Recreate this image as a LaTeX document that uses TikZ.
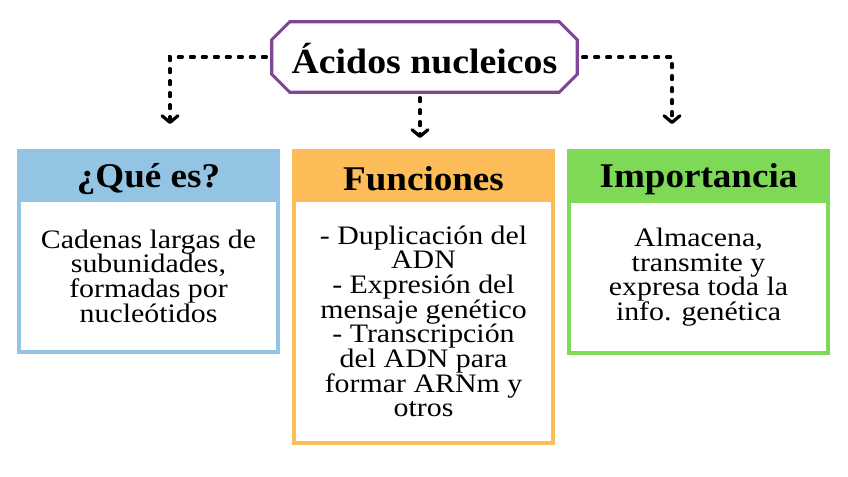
\documentclass[tikz,border=0pt]{standalone}
\usepackage{fontspec}
\setmainfont{Liberation Serif}[FakeStretch=1.07]
\newfontfamily\bodyfont{Liberation Serif}[FakeStretch=1.12]
\usetikzlibrary{arrows.meta}
\definecolor{qblue}{RGB}{148,196,228}
\definecolor{qorange}{RGB}{252,188,88}
\definecolor{qgreen}{RGB}{126,217,87}
\definecolor{qpurple}{RGB}{128,70,150}
\tikzset{
  titlebox/.style={rectangle, minimum width=228.75pt, minimum height=52.5pt, inner sep=0pt},
  titleline/.style={draw=qpurple, line width=2.3pt, fill=white, line join=miter},
  titletext/.style={inner sep=0pt, font=\bfseries\fontsize{26.5}{30}\selectfont},
  headbox/.style={rectangle, minimum width=197.25pt, minimum height=39.75pt, inner sep=0pt},
  headtext/.style={inner sep=0pt, font=\bfseries\fontsize{26}{28}\selectfont},
  bodybox/.style={rectangle, line width=3pt, fill=white, minimum width=194.25pt, inner sep=0pt,
    align=center, font=\bodyfont\fontsize{20}{18.5}\selectfont},
  conn/.style={line width=2.4pt, line cap=round, dash pattern=on 3pt off 6pt,
    -{Straight Barb[length=5pt,width=12pt,line cap=round,line join=round]}},
}
\begin{document}
\begin{tikzpicture}[x=0.75pt,y=-0.75pt]
\useasboundingbox (0,0) rectangle (848,477);
% bodies
\node[bodybox, draw=qblue, minimum height=114pt] (b1) at (148.5,276) {Cadenas largas de\\subunidades,\\formadas por\\nucleótidos};
\node[bodybox, draw=qorange, minimum height=182.25pt] (b2) at (423.5,321.5) {- Duplicación del\\ADN\\- Expresión del\\mensaje genético\\- Transcripción\\del ADN para\\formar ARNm y\\otros};
\node[bodybox, draw=qgreen, minimum height=114pt] (b3) at (698.5,277) {Almacena,\\transmite y\\expresa toda la\\info. genética};
% headers
\node[headbox, fill=qblue] (h1) at (148.5,175.5) {};
\node[headbox, fill=qorange] (h2) at (423.5,175.5) {};
\node[headbox, fill=qgreen] (h3) at (698.5,175.5) {};
\node[headtext] (h1t) at ([yshift=-2.5pt]h1.center) {¿Qué es?};
\node[headtext] (h2t) at ([yshift=-2.5pt]h2.center) {Funciones};
\node[headtext] (h3t) at ([yshift=-2.5pt]h3.center) {Importancia};
% title
\node[titlebox] (t) at (424.5,57) {};
\draw[titleline] ([xshift=13.5pt]t.north west) -- ([xshift=-13.5pt]t.north east)
  -- ([yshift=-13.5pt]t.north east) -- ([yshift=13.5pt]t.south east)
  -- ([xshift=-13.5pt]t.south east) -- ([xshift=13.5pt]t.south west)
  -- ([yshift=13.5pt]t.south west) -- ([yshift=-13.5pt]t.north west) -- cycle;
\node[titletext] (tt) at ([yshift=-1pt]t.center) {Ácidos nucleicos};
% connectors
\coordinate (e1) at (170,124);
\coordinate (e2) at (420,138);
\coordinate (e3) at (672,124);
\draw[conn] ([xshift=-4pt]t.west) -| (e1);
\draw[conn] ([xshift=4pt]t.east) -| (e3);
\draw[conn] ([yshift=-4pt]t.south -| e2) -- (e2);
\end{tikzpicture}
\end{document}
